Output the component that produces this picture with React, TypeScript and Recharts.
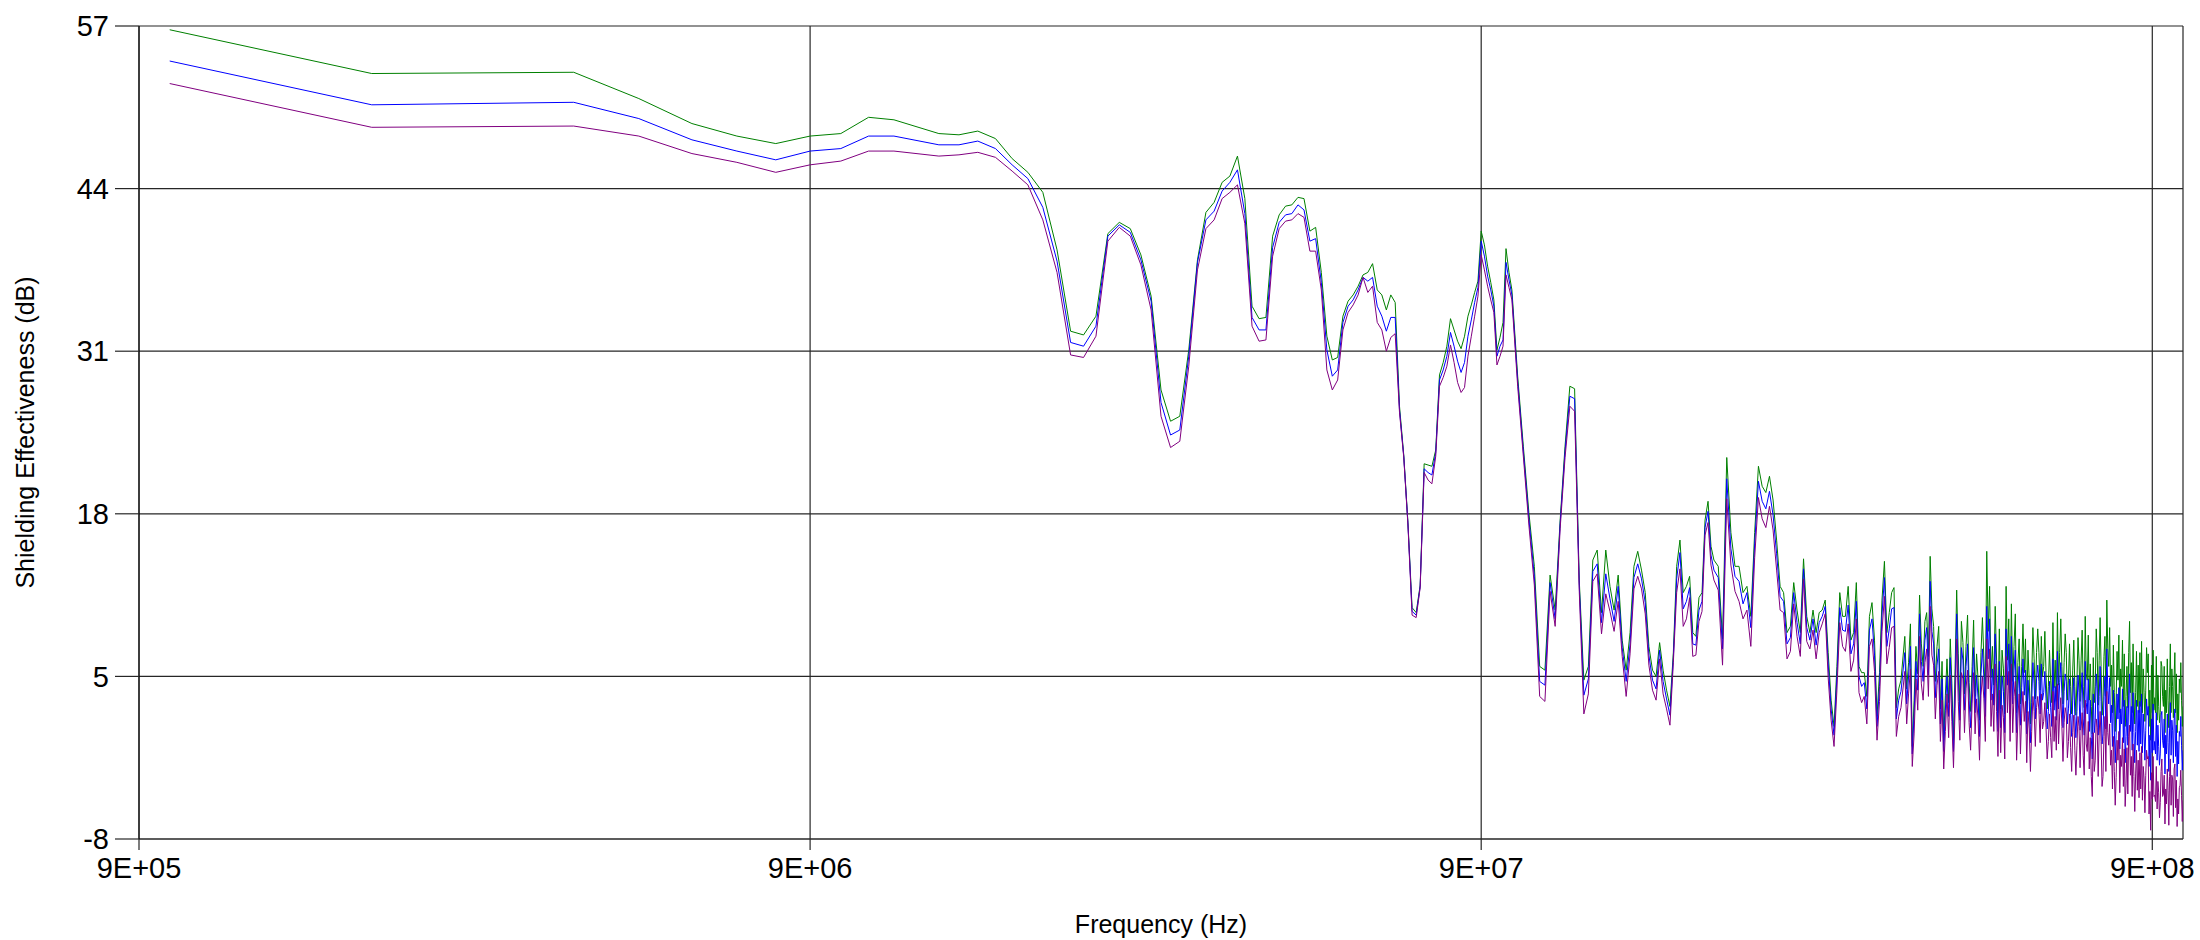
import React from 'react';
import { LineChart, Line, XAxis, YAxis, CartesianGrid, Label } from 'recharts';

// frequency points in MHz
const freqMHz = [
  1, 2, 4, 5, 6, 7, 8, 9, 10, 11, 12,
  14, 15, 16, 17, 18, 19, 20, 21, 22, 23, 24, 25, 26, 27, 28, 29, 30, 31, 32, 33,
  34, 35, 36, 37, 38, 39, 40, 41, 42, 43, 44, 45, 46, 47, 48, 49, 50, 51, 52, 53,
  54, 55, 56, 57, 58, 59, 60, 61, 62, 63, 64, 65, 66, 67, 68, 69, 70, 71, 72, 73,
  74, 75, 76, 77, 78, 79, 80, 81, 82, 83, 84, 85, 86, 87, 88, 89, 90, 91, 92, 93,
  94, 95, 96, 97, 98, 99, 100,
  102, 104, 106, 108, 110, 112, 114, 116, 118, 120, 122, 124, 126, 128, 130, 132, 134, 136, 138, 140,
  142, 144, 146, 148, 150, 152, 154, 156, 158, 160, 162, 164, 166, 168, 170, 172, 174, 176, 178, 180,
  182, 184, 186, 188, 190, 192, 194, 196, 198, 200,
  203, 206, 209, 212, 215, 218, 221, 224, 227, 230, 233, 236, 239, 242, 245, 248, 251, 254, 257, 260,
  263, 266, 269, 272, 275, 278, 281, 284, 287, 290, 293, 296, 299, 302, 305, 308, 311, 314, 317, 320,
  323, 326, 329, 332, 335, 338, 341, 344, 347, 350, 353, 356, 359, 362, 365, 368, 371, 374, 377, 380,
  385, 387.5, 390, 392.5, 395, 397.5, 400, 402.5, 405, 407.5,
  410, 412.5, 415, 417.5, 420, 422.5, 425, 427.5, 430, 432.5,
  435, 437.5, 440, 442.5, 445, 447.5, 450, 452.5, 455, 457.5,
  460, 462.5, 465, 467.5, 470, 472.5, 475, 477.5, 480, 482.5,
  485, 487.5, 490, 492.5, 495, 497.5, 500, 502.5, 505, 507.5,
  510, 512.5, 515, 517.5, 520, 522.5, 525, 527.5, 530, 532.5,
  535, 537.5, 540, 542.5, 545, 547.5, 550, 552.5, 555, 557.5,
  560, 562.5, 565, 567.5, 570, 572.5, 575, 577.5, 580, 582.5,
  585, 587.5, 590, 592.5, 595, 597.5,
  600, 602.5, 605, 607.5, 610, 612.5, 615, 617.5, 620, 622.5,
  625, 627.5, 630, 632.5, 635, 637.5, 640, 642.5, 645, 647.5,
  650, 652.5, 655, 657.5, 660, 662.5, 665, 667.5, 670, 672.5,
  675, 677.5, 680, 682.5, 685, 687.5, 690, 692.5, 695, 697.5,
  700, 702.5, 705, 707.5, 710, 712.5, 715, 717.5, 720, 722.5,
  725, 727.5, 730, 732.5, 735, 737.5, 740, 742.5, 745, 747.5,
  750, 752.5, 755, 757.5, 760, 762.5, 765, 767.5, 770, 772.5,
  775, 777.5, 780, 782.5, 785, 787.5, 790, 792.5, 795, 797.5,
  800, 802.5, 805, 807.5, 810, 812.5, 815, 817.5, 820, 822.5,
  825, 827.5, 830, 832.5, 835, 837.5, 840, 842.5, 845, 847.5,
  850, 852.5, 855, 857.5, 860, 862.5, 865, 867.5, 870, 872.5,
  875, 877.5, 880, 882.5, 885, 887.5, 890, 892.5, 895, 897.5,
  900, 902.5, 905, 907.5, 910, 912.5, 915, 917.5, 920, 922.5,
  925, 927.5, 930, 932.5, 935, 937.5, 940, 942.5, 945, 947.5,
  950, 952.5, 955, 957.5, 960, 962.5, 965, 967.5, 970, 972.5,
  975, 977.5, 980, 982.5, 985, 987.5, 990, 992.5, 995, 997.5,
  1000,
];

const greenSE = [
  56.7, 53.2, 53.3, 51.2, 49.2, 48.2, 47.6, 48.2, 48.4, 49.7, 49.5,
  48.4, 48.3, 48.6, 48.0, 46.4, 45.3, 43.7, 39.1, 32.6, 32.3,
  33.8, 40.4, 41.3, 40.8, 38.7, 35.4, 27.9, 25.4, 25.8, 31.1,
  38.3, 42.1, 42.9, 44.5, 45.0, 46.6, 43.2, 34.6, 33.6, 33.7,
  40.2, 41.9, 42.6, 42.7, 43.3, 43.2, 40.6, 40.9, 37.3, 32.2,
  30.3, 30.5, 33.8, 35.0, 35.5, 36.2, 37.1, 37.3, 38.0, 35.9,
  35.5, 34.3, 35.5, 34.9, 26.6, 22.7, 17.3, 10.5, 10.1, 12.3,
  22.0, 21.9, 21.8, 23.1, 29.1, 30.1, 31.4, 33.6, 32.7, 31.8,
  31.2, 32.2, 33.8, 34.7, 35.7, 36.6, 40.6, 39.5, 37.8, 36.5,
  35.1, 31.1, 32.1, 33.3, 39.2, 37.3, 35.9,
  29.0, 23.4, 18.1, 13.8, 5.8, 5.5, 13.1, 10.3, 17.5, 23.4,
  28.2, 28.0, 12.7, 4.7, 5.8, 14.3, 15.1, 10.1, 15.1, 12.2,
  10.3, 13.1, 7.9, 5.5, 8.5, 13.8, 15.0, 13.5, 11.7, 7.4,
  5.5, 5.0, 7.7, 5.5, 3.9, 2.6, 6.9, 13.8, 15.9, 11.7,
  12.2, 13.0, 8.5, 8.2, 11.3, 11.7, 17.5, 19.0, 15.4, 14.3,
  13.8, 8.0, 22.5, 16.5, 13.8, 13.8, 11.7, 12.2, 9.8, 16.5,
  21.8, 20.2, 19.7, 21.0, 19.1, 15.9, 12.2, 11.7, 8.5, 9.0,
  12.5, 10.3, 8.5, 14.4, 9.8, 8.5, 10.3, 8.5, 10.1, 10.3,
  11.1, 6.9, 3.1, 1.0, 5.8, 11.7, 9.8, 9.8, 12.2, 7.9,
  8.5, 12.5, 5.8, 5.3, 5.3, 3.4, 9.8, 10.9, 7.9, 1.8,
  5.3, 11.1, 14.2, 8.5, 10.1, 11.7, 12.1, 2.5, 4.0, 4.7,
  8.2, 4.0, 6.1, 9.2, -0.6, 3.1, 7.4, 5.2, 11.5, 7.6,
  5.8, 9.4, 10.1, 6.6, 14.6, 10.4, 9.0, 4.6, 7.4, 9.0,
  2.4, 6.2, -0.1, 3.5, 6.4, 2.9, 8.0, 4.4, -0.1, 5.6,
  11.9, 6.8, 2.6, 9.4, 7.7, 3.6, 7.4, 9.9, 4.5, 2.2,
  5.8, 9.5, 3.4, 6.8, 4.8, 1.5, 6.9, 9.7, 6.4, 3.3,
  15.0, 8.6, 12.2, 4.9, 7.4, 4.3, 10.6, 6.3, 2.1, 8.8,
  2.4, 7.1, 5.6, 2.0, 12.2, 6.3, 9.6, 3.7, 10.8, 4.6,
  7.4, 10.0, 2.1, 6.1, 8.0, 2.8, 5.8, 9.2, 5.3, 8.0,
  2.1, 7.1, 4.8, 1.2, 4.8, 8.9,
  6.4, 3.2, 6.9, 8.8, 6.9, 3.9, 8.2, 5.0, 5.8, 8.6,
  5.3, 2.4, 4.2, 7.1, 4.7, 2.9, 9.3, 4.1, 6.3, 3.0,
  10.1, 4.3, 6.9, 9.6, 5.8, 2.8, 6.1, 8.4, 6.9, 3.1,
  4.7, 7.6, 4.2, 2.0, 5.5, 7.9, 4.2, 1.9, 4.7, 8.1,
  6.3, 3.0, 6.3, 8.7, 4.2, 2.5, 9.8, 5.2, 4.7, 8.3,
  3.1, 6.0, 2.6, 0.4, 6.5, 2.9, 4.2, 8.8, 6.9, 2.7,
  6.3, 9.7, 5.8, 1.9, 3.1, 6.6, 8.2, 3.4, 11.1, 7.2,
  5.8, 8.9, 4.2, 5.9, 2.1, 7.5, 3.7, 0.6, 3.1, 7.0,
  4.7, 8.3, 2.1, 5.6, 4.2, 7.9, 2.6, 6.8, 1.0, 3.4,
  5.8, 2.5, 6.9, 9.4, 3.7, 6.1, 2.1, 7.6, 3.7, 1.2,
  3.7, 7.0, 2.6, 5.9, 2.1, 6.9, 2.6, 7.8, 2.1, 5.6,
  3.7, 1.4, 3.9, 7.3, 5.3, 6.8, 1.0, 3.9, -0.1, 5.9,
  2.1, 7.1, 2.3, 3.3, 2.1, 6.6, 1.5, 5.1, 2.6, 1.3,
  2.1, 6.2, 5.8, 3.4, 2.6, 5.8, 0.5, 3.9, 2.1, 6.4,
  3.1, 0.9, 4.2, 7.6, 2.1, 5.6, 4.2, 1.7, 5.0, 6.9,
  2.1, 5.2, 0.5, 3.6, 1.5, 4.8, 3.7, 6.1, 3.1, 1.0,
  2.6,
];

const blueSE = [
  54.2, 50.7, 50.9, 49.6, 47.9, 47.0, 46.3, 47.0, 47.2, 48.2, 48.2,
  47.5, 47.5, 47.8, 47.2, 45.9, 44.8, 42.5, 38.2, 31.7, 31.4,
  33.0, 40.2, 41.1, 40.5, 38.3, 35.0, 26.9, 24.3, 24.7, 30.6,
  38.1, 41.5, 42.2, 43.8, 44.5, 45.5, 42.0, 33.7, 32.7, 32.7,
  39.3, 41.3, 41.9, 42.0, 42.7, 42.3, 39.8, 40.0, 36.5, 31.1,
  29.0, 29.5, 33.3, 34.6, 35.1, 35.9, 36.9, 36.6, 36.9, 34.6,
  33.8, 32.6, 33.7, 33.7, 26.3, 22.6, 17.2, 10.2, 9.9, 12.2,
  21.6, 21.3, 21.1, 22.9, 28.7, 29.5, 30.6, 32.5, 31.4, 30.2,
  29.3, 30.1, 32.2, 33.5, 34.9, 36.1, 39.8, 38.6, 37.0, 35.9,
  34.6, 30.6, 31.4, 31.9, 38.1, 36.7, 35.5,
  28.6, 23.0, 17.6, 13.0, 4.6, 4.3, 12.5, 9.6, 17.2, 23.0,
  27.4, 27.2, 12.3, 3.5, 4.8, 13.4, 14.0, 9.3, 13.2, 11.2,
  9.4, 12.2, 7.3, 4.6, 7.6, 12.9, 14.0, 12.8, 10.9, 6.7,
  4.7, 4.0, 7.1, 4.6, 3.2, 1.9, 6.5, 12.8, 14.9, 10.4,
  11.0, 12.1, 7.6, 7.5, 10.3, 11.0, 16.9, 18.2, 14.7, 13.5,
  12.9, 7.2, 20.8, 15.2, 13.0, 12.6, 10.8, 11.7, 8.9, 15.6,
  20.6, 19.0, 18.4, 19.8, 17.9, 14.8, 11.4, 11.0, 7.6, 8.1,
  11.7, 9.3, 7.6, 13.6, 8.9, 7.9, 9.6, 7.5, 9.3, 9.8,
  10.6, 6.0, 2.4, 0.3, 5.0, 10.5, 8.7, 8.6, 10.7, 6.8,
  7.6, 11.0, 5.0, 4.2, 4.5, 2.4, 8.7, 9.6, 6.7, 1.0,
  4.2, 9.9, 12.9, 7.4, 8.8, 10.4, 10.5, 1.6, 3.1, 3.8,
  6.9, 2.8, 5.0, 7.4, -1.2, 2.0, 6.2, 3.9, 10.0, 6.2,
  4.6, 7.9, 8.9, 5.1, 12.6, 8.6, 7.6, 3.3, 5.9, 7.2,
  1.2, 4.8, -1.0, 2.3, 5.0, 1.8, 6.5, 3.1, -1.0, 4.1,
  10.0, 5.0, 1.5, 7.3, 6.3, 2.3, 5.8, 7.6, 3.1, 0.9,
  4.4, 7.3, 2.1, 5.1, 3.3, 0.2, 5.2, 7.2, 4.9, 1.8,
  10.6, 6.4, 9.6, 3.1, 5.6, 2.7, 8.4, 4.4, 0.6, 6.2,
  0.9, 5.0, 3.8, 0.5, 8.8, 4.3, 7.6, 2.0, 8.2, 2.8,
  5.5, 7.1, 0.5, 4.0, 5.8, 1.1, 4.1, 6.4, 3.5, 5.5,
  0.4, 4.7, 3.0, -0.3, 2.9, 6.1,
  4.4, 1.6, 4.8, 5.9, 4.6, 2.0, 6.0, 3.1, 3.7, 5.4,
  3.2, 0.8, 2.2, 4.6, 2.5, 1.0, 6.4, 2.3, 4.2, 1.5,
  7.0, 2.4, 4.5, 6.1, 3.6, 0.9, 3.8, 5.2, 4.6, 1.2,
  2.4, 4.8, 1.9, 0.2, 3.1, 4.9, 1.8, 0.1, 2.2, 5.1,
  3.7, 0.7, 3.6, 5.3, 1.6, 0.3, 6.2, 2.9, 2.0, 4.8,
  0.6, 3.1, 0.1, -1.6, 3.6, 0.5, 1.5, 5.2, 4.0, 0.3,
  3.4, 5.8, 3.0, -0.4, 0.4, 3.4, 5.0, 0.8, 7.2, 4.0,
  2.8, 4.9, 1.3, 2.7, -0.6, 3.9, 0.8, -1.9, 0.3, 3.6,
  1.6, 4.1, -0.8, 2.4, 1.2, 4.0, -0.3, 3.1, -1.9, 0.2,
  2.6, -0.5, 3.5, 5.2, 0.6, 2.6, -0.9, 3.7, 0.5, -1.9,
  0.6, 3.1, -0.5, 2.3, -1.0, 3.0, -0.4, 3.6, -1.1, 2.0,
  0.4, -1.7, 0.7, 3.2, 1.9, 2.6, -2.2, 0.3, -3.3, 1.6,
  -1.1, 2.8, -0.9, -0.2, -1.2, 2.1, -1.7, 1.1, -0.6, -2.1,
  -1.2, 1.9, 2.2, -0.1, -0.7, 1.6, -2.8, 0.3, -1.2, 2.0,
  -0.3, -2.6, 0.8, 2.9, -1.3, 1.5, 0.7, -1.9, 1.5, 2.4,
  -1.4, 1.1, -3.0, -0.2, -2.0, 0.6, 0.2, 1.8, -0.5, -2.5,
  -0.9,
];

const purpleSE = [
  52.4, 48.9, 49.0, 48.2, 46.8, 46.1, 45.3, 45.9, 46.2, 47.0, 47.0,
  46.6, 46.7, 46.9, 46.5, 45.4, 44.3, 41.5, 37.3, 30.7, 30.5,
  32.2, 39.8, 40.9, 40.2, 37.9, 34.3, 25.8, 23.3, 23.8, 29.8,
  37.5, 40.8, 41.5, 43.2, 43.7, 44.3, 41.2, 33.0, 31.8, 31.9,
  38.6, 40.8, 41.4, 41.5, 42.0, 41.7, 39.0, 39.0, 35.9, 29.5,
  27.9, 28.7, 32.7, 34.1, 34.7, 35.5, 36.9, 35.7, 36.2, 33.3,
  32.7, 31.0, 32.1, 32.4, 26.1, 22.5, 17.1, 9.9, 9.7, 12.1,
  21.3, 20.7, 20.4, 22.6, 28.2, 28.9, 29.8, 31.5, 30.1, 28.5,
  27.7, 28.1, 30.6, 32.2, 33.8, 35.4, 38.7, 37.5, 36.2, 35.1,
  34.1, 29.9, 30.6, 31.4, 37.1, 36.1, 35.1,
  28.2, 22.6, 17.1, 12.3, 3.4, 3.0, 11.8, 9.0, 16.8, 22.5,
  26.6, 26.2, 11.8, 2.0, 3.6, 12.6, 13.2, 8.4, 11.6, 10.2,
  8.6, 11.0, 6.6, 3.4, 6.8, 12.0, 13.0, 12.0, 10.0, 5.9,
  3.9, 3.1, 6.4, 3.6, 2.4, 1.1, 6.1, 11.7, 13.6, 9.0,
  9.6, 11.3, 6.6, 6.7, 9.4, 10.2, 16.3, 17.3, 13.9, 12.7,
  11.9, 5.9, 19.2, 13.9, 11.8, 11.0, 9.6, 10.3, 7.4, 14.5,
  19.3, 17.6, 16.9, 18.6, 16.7, 13.5, 10.3, 10.1, 6.4, 7.0,
  10.8, 8.2, 6.6, 12.8, 7.8, 7.2, 8.7, 6.4, 8.5, 9.2,
  10.0, 4.9, 1.5, -0.6, 3.9, 9.3, 7.4, 7.0, 9.2, 5.4,
  6.3, 9.6, 3.7, 2.9, 3.4, 1.2, 7.4, 8.0, 5.4, -0.1,
  3.0, 8.6, 11.4, 6.0, 7.3, 8.9, 9.0, 0.2, 1.8, 2.5,
  5.4, 1.2, 3.6, 5.6, -2.2, 0.4, 4.8, 2.3, 8.2, 4.4,
  3.1, 6.1, 7.2, 3.4, 10.6, 6.7, 5.9, 1.6, 4.3, 5.4,
  -0.2, 3.1, -2.4, 0.6, 3.6, 0.1, 5.1, 1.4, -2.3, 2.4,
  8.0, 3.0, -0.1, 5.3, 4.8, 0.5, 4.0, 5.5, 1.3, -0.9,
  2.8, 5.3, 0.4, 3.2, 1.6, -1.7, 3.5, 5.0, 3.2, -0.2,
  8.0, 4.0, 7.2, 1.0, 3.6, 0.6, 6.0, 2.2, -1.4, 3.9,
  -1.1, 2.7, 1.7, -1.6, 6.6, 2.1, 5.4, -0.2, 6.0, 0.5,
  3.4, 4.6, -1.7, 1.6, 3.6, -1.2, 2.0, 3.8, 1.4, 3.0,
  -1.9, 2.2, 0.8, -2.6, 0.6, 3.4,
  2.2, -0.6, 2.5, 3.4, 2.3, -0.3, 3.6, 0.8, 1.4, 2.9,
  0.9, -1.6, -0.2, 2.0, 0.1, -1.5, 3.8, -0.2, 1.8, -0.9,
  4.4, -0.4, 2.0, 3.3, 1.0, -1.8, 1.3, 2.5, 2.0, -1.5,
  -0.2, 2.0, -0.7, -2.6, 0.5, 1.9, -0.9, -2.9, -0.5, 1.8,
  1.0, -2.3, 0.8, 2.1, -1.3, -2.9, 3.1, -0.4, -1.0, 1.4,
  -2.4, 0.1, -3.0, -4.6, 0.5, -2.6, -1.7, 1.6, 0.9, -3.0,
  0.3, 2.2, -0.2, -3.8, -3.0, 0.2, 1.8, -2.6, 3.8, 0.5,
  -0.5, 1.2, -2.1, -0.9, -4.0, 0.2, -2.6, -5.3, -3.1, -0.1,
  -1.7, 0.6, -4.3, -1.3, -2.2, 0.1, -3.8, -0.8, -5.4, -3.6,
  -0.7, -4.4, 0.2, 1.1, -2.9, -1.4, -4.6, -0.4, -3.0, -5.8,
  -2.8, -0.9, -4.1, -1.7, -4.7, -1.1, -4.0, -0.6, -4.9, -2.2,
  -3.2, -5.9, -2.9, -0.9, -1.6, -1.4, -6.0, -4.2, -7.3, -2.7,
  -4.8, -1.4, -4.6, -4.5, -5.0, -2.2, -5.6, -3.4, -4.3, -6.3,
  -5.1, -2.6, -1.6, -4.6, -4.4, -2.9, -6.8, -4.0, -5.2, -2.4,
  -4.1, -6.9, -3.0, -1.6, -5.3, -2.9, -3.2, -6.2, -2.4, -2.0,
  -5.5, -3.3, -7.0, -4.8, -6.0, -3.9, -3.7, -2.5, -4.5, -6.6,
  -4.9,
];

const xTicks = [9e5, 9e6, 9e7, 9e8];
const xTickLabels = ['9E+05', '9E+06', '9E+07', '9E+08'];
const yTicks = [-8, 5, 18, 31, 44, 57];

const data = freqMHz.map((f, i) => ({
  hz: f * 1e6,
  green: greenSE[i],
  blue: blueSE[i],
  purple: purpleSE[i],
}));

const font = '"Liberation Sans", Arial, sans-serif';
const gridColor = '#262626';

const App: React.FC = () => {
  return (
    <div style={{ position: 'absolute', left: 0, top: 0, width: 2200, height: 940, background: '#fff' }}>
      <LineChart
        width={2200}
        height={940}
        data={data}
        margin={{ top: 26, right: 17, bottom: 0, left: 0 }}
      >
        <CartesianGrid stroke={gridColor} strokeWidth={1.2} />
        <XAxis
          dataKey="hz"
          type="number"
          scale="log"
          domain={[9e5, 1e9]}
          allowDataOverflow
          ticks={xTicks}
          interval={0}
          tickFormatter={(v: number) => xTickLabels[xTicks.indexOf(v)] ?? ''}
          height={101}
          tickSize={11}
          tickMargin={7}
          tick={{ fontSize: 29, fill: '#000', fontFamily: font }}
          axisLine={{ stroke: gridColor, strokeWidth: 1.2 }}
          tickLine={{ stroke: gridColor, strokeWidth: 1.2 }}
        >
          <Label
            value="Frequency (Hz)"
            position="insideBottom"
            offset={7}
            style={{ fontSize: 25, fill: '#000', fontFamily: font }}
          />
        </XAxis>
        <YAxis
          type="number"
          domain={[-8, 57]}
          allowDataOverflow
          ticks={yTicks}
          interval={0}
          width={139}
          tickSize={24}
          tickMargin={6}
          tick={{ fontSize: 29, fill: '#000', fontFamily: font }}
          axisLine={{ stroke: '#000' }}
          tickLine={{ stroke: gridColor, strokeWidth: 1.2 }}
        >
          <Label
            value="Shielding Effectiveness (dB)"
            angle={-90}
            position="insideLeft"
            offset={25}
            textAnchor="middle"
            style={{ fontSize: 25, fill: '#000', fontFamily: font, textAnchor: 'middle' }}
          />
        </YAxis>
        <Line type="linear" dataKey="green" stroke="#008000" strokeWidth={1} dot={false} isAnimationActive={false} />
        <Line type="linear" dataKey="blue" stroke="#0000ff" strokeWidth={1} dot={false} isAnimationActive={false} />
        <Line type="linear" dataKey="purple" stroke="#800080" strokeWidth={1} dot={false} isAnimationActive={false} />
      </LineChart>
    </div>
  );
};

export default App;
